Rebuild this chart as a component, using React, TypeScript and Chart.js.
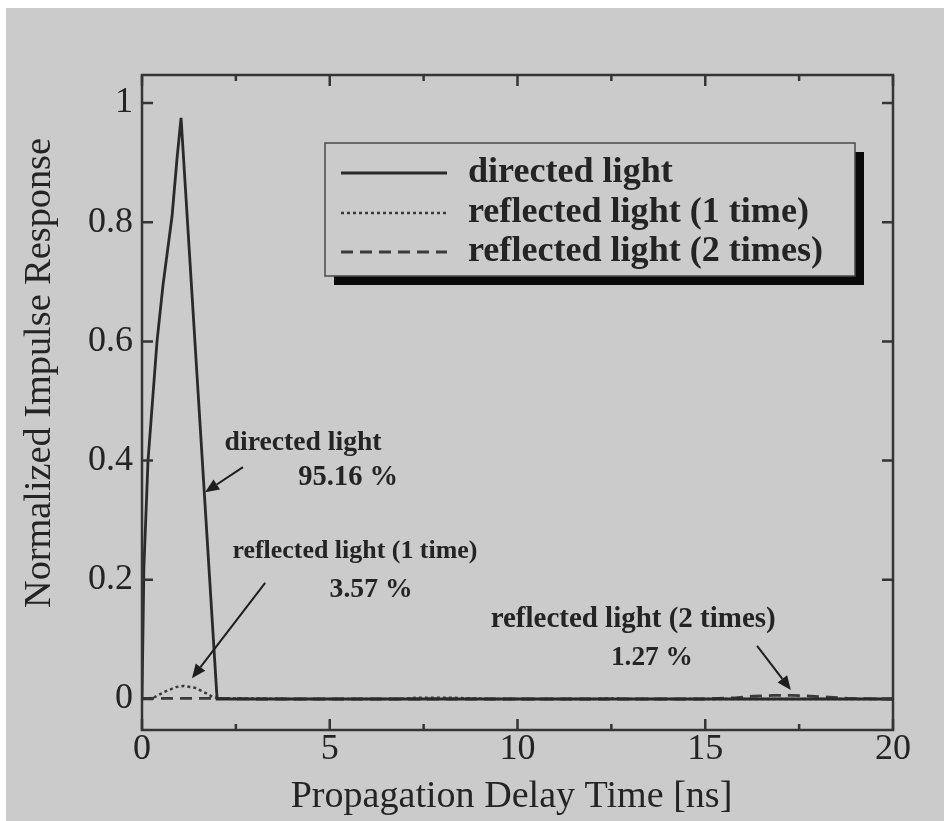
import React, { useEffect, useRef } from "react";
import { Chart, registerables } from "chart.js";

Chart.register(...registerables);

// ---- data ----
const directedX = [0, 0.05, 0.16, 0.4, 0.56, 0.8, 0.93, 1.04, 2.0, 20];
const directedY = [0, 0.22, 0.4, 0.6, 0.695, 0.81, 0.905, 0.975, 0, 0];

const reflected1X = [0, 0.3, 0.6, 0.9, 1.1, 1.4, 1.7, 1.9, 2.1, 3, 4, 6.8, 7.3, 7.8, 8.3, 8.8, 9.3, 12, 12.5, 13, 14, 20];
const reflected1Y = [0, 0.002, 0.012, 0.02, 0.022, 0.019, 0.01, 0.003, 0.001, 0.001, 0, 0, 0.002, 0.002, 0.002, 0.001, 0, 0, 0.001, 0, 0, 0];

const reflected2X = [0, 1, 2, 3, 10, 15, 15.8, 16.3, 16.8, 17.3, 17.8, 18.3, 18.8, 20];
const reflected2Y = [0.001, 0.001, 0.001, 0, 0, 0, 0.002, 0.005, 0.006, 0.006, 0.005, 0.003, 0.001, 0];

const xTickLabels = ["0", "5", "10", "15", "20"];
const xTickValues = [0, 5, 10, 15, 20];
const xMinorValues = [2.5, 7.5, 12.5, 17.5];
const yTickLabels = ["0", "0.2", "0.4", "0.6", "0.8", "1"];
const yTickValues = [0, 0.2, 0.4, 0.6, 0.8, 1];

const seriesNames = ["directed light", "reflected light (1 time)", "reflected light (2 times)"];

const xTitle = "Propagation Delay Time [ns]";
const yTitle = "Normalized Impulse Response";

// annotation texts anchored in data units
const annotationTexts = [
  { text: "directed light", x: 4.29, y: 0.43, w: 157 },
  { text: "95.16 %", x: 5.49, y: 0.371, w: 100 },
  { text: "reflected light (1 time)", x: 5.67, y: 0.247, w: 245 },
  { text: "3.57 %", x: 6.1, y: 0.183, w: 83 },
  { text: "reflected light (2 times)", x: 13.08, y: 0.133, w: 285 },
  { text: "1.27 %", x: 13.58, y: 0.069, w: 82 },
];
const annotationArrows = [
  { x0: 2.69, y0: 0.389, x1: 1.68, y1: 0.347 },
  { x0: 3.28, y0: 0.195, x1: 1.33, y1: 0.035 },
  { x0: 16.38, y0: 0.089, x1: 17.28, y1: 0.015 },
];

const SERIF = '"Liberation Serif", "DejaVu Serif", serif';
const BG = "#cbcbcb";
const INK = "#242424";

function fitFont(ctx: CanvasRenderingContext2D, text: string, width: number, weight: string) {
  ctx.font = `${weight} 100px ${SERIF}`;
  const w = ctx.measureText(text).width;
  const size = (100 * width) / w;
  ctx.font = `${weight} ${size.toFixed(2)}px ${SERIF}`;
  return size;
}

function toPts(xs: number[], ys: number[]) {
  return xs.map((x, i) => ({ x, y: ys[i] }));
}

const decorPlugin = {
  id: "decor",
  beforeDraw(chart: any) {
    const ctx: CanvasRenderingContext2D = chart.ctx;
    ctx.save();
    ctx.fillStyle = "#ffffff";
    ctx.fillRect(0, 0, chart.width, chart.height);
    ctx.fillStyle = BG;
    ctx.fillRect(6, 8, chart.width - 6, chart.height - 8);
    ctx.restore();
  },
  afterDatasetsDraw(chart: any) {
    const ctx: CanvasRenderingContext2D = chart.ctx;
    const xs = chart.scales.x;
    const ys = chart.scales.y;
    const { left, right, top, bottom } = chart.chartArea;
    ctx.save();

    // frame
    ctx.strokeStyle = "#353535";
    ctx.lineWidth = 2.5;
    ctx.strokeRect(left, top, right - left, bottom - top);

    // ticks (inward)
    ctx.lineWidth = 2.5;
    ctx.beginPath();
    const major = 11;
    const minor = 6;
    xTickValues.forEach((v) => {
      const px = xs.getPixelForValue(v);
      ctx.moveTo(px, bottom);
      ctx.lineTo(px, bottom - major);
      ctx.moveTo(px, top);
      ctx.lineTo(px, top + major);
    });
    xMinorValues.forEach((v) => {
      const px = xs.getPixelForValue(v);
      ctx.moveTo(px, bottom);
      ctx.lineTo(px, bottom - minor);
      ctx.moveTo(px, top);
      ctx.lineTo(px, top + minor);
    });
    yTickValues.forEach((v) => {
      const py = ys.getPixelForValue(v);
      ctx.moveTo(left, py);
      ctx.lineTo(left + major, py);
      ctx.moveTo(right, py);
      ctx.lineTo(right - major, py);
    });
    ctx.stroke();

    // tick labels
    ctx.fillStyle = INK;
    ctx.textBaseline = "middle";
    fitFont(ctx, "0.8", 45, "normal");
    ctx.textAlign = "right";
    yTickLabels.forEach((t, i) => {
      ctx.fillText(t, left - 9, ys.getPixelForValue(yTickValues[i]));
    });
    ctx.textAlign = "center";
    xTickLabels.forEach((t, i) => {
      ctx.fillText(t, xs.getPixelForValue(xTickValues[i]), bottom + 20);
    });

    // axis titles
    fitFont(ctx, xTitle, 442, "normal");
    ctx.fillText(xTitle, (left + right) / 2 - 6, bottom + 67);
    ctx.save();
    ctx.translate(40, 373);
    ctx.rotate(-Math.PI / 2);
    fitFont(ctx, yTitle, 470, "normal");
    ctx.fillText(yTitle, 0, 0);
    ctx.restore();

    // legend box with shadow
    const lx = left + 183;
    const ly = top + 68;
    const lw = 530;
    const lh = 133;
    ctx.fillStyle = "#0a0a0a";
    ctx.fillRect(lx + 9, ly + 9, lw, lh);
    ctx.fillStyle = BG;
    ctx.fillRect(lx, ly, lw, lh);
    ctx.strokeStyle = "#4a4a4a";
    ctx.lineWidth = 1.5;
    ctx.strokeRect(lx, ly, lw, lh);

    const styles = chart.data.datasets;
    const rowY = [ly + 30, ly + 70, ly + 109];
    styles.forEach((ds: any, i: number) => {
      ctx.strokeStyle = ds.borderColor;
      ctx.lineWidth = ds.borderWidth;
      ctx.setLineDash(ds.borderDash || []);
      ctx.beginPath();
      ctx.moveTo(lx + 16, rowY[i]);
      ctx.lineTo(lx + 122, rowY[i]);
      ctx.stroke();
    });
    ctx.setLineDash([]);
    ctx.fillStyle = INK;
    ctx.textAlign = "left";
    fitFont(ctx, seriesNames[2], 355, "bold");
    seriesNames.forEach((n, i) => ctx.fillText(n, lx + 143, rowY[i]));

    // annotations
    ctx.textAlign = "center";
    annotationTexts.forEach((a) => {
      fitFont(ctx, a.text, a.w, "bold");
      ctx.fillText(a.text, xs.getPixelForValue(a.x), ys.getPixelForValue(a.y));
    });
    ctx.strokeStyle = "#1e1e1e";
    ctx.fillStyle = "#1e1e1e";
    ctx.lineWidth = 2;
    annotationArrows.forEach((a) => {
      const x0 = xs.getPixelForValue(a.x0);
      const y0 = ys.getPixelForValue(a.y0);
      const x1 = xs.getPixelForValue(a.x1);
      const y1 = ys.getPixelForValue(a.y1);
      const ang = Math.atan2(y1 - y0, x1 - x0);
      const hl = 14;
      const hw = 6;
      const bx = x1 - hl * Math.cos(ang);
      const by = y1 - hl * Math.sin(ang);
      ctx.beginPath();
      ctx.moveTo(x0, y0);
      ctx.lineTo(bx, by);
      ctx.stroke();
      ctx.beginPath();
      ctx.moveTo(x1, y1);
      ctx.lineTo(bx + hw * Math.sin(ang), by - hw * Math.cos(ang));
      ctx.lineTo(bx - hw * Math.sin(ang), by + hw * Math.cos(ang));
      ctx.closePath();
      ctx.fill();
    });

    ctx.restore();
  },
};

export default function App() {
  const ref = useRef<HTMLCanvasElement | null>(null);

  useEffect(() => {
    document.body.style.margin = "0";
    const canvas = ref.current;
    if (!canvas) return;
    const chart = new Chart(canvas, {
      type: "line",
      data: {
        datasets: [
          {
            label: seriesNames[0],
            data: toPts(directedX, directedY),
            borderColor: "#2a2a2a",
            borderWidth: 2.8,
            pointRadius: 0,
            tension: 0,
          },
          {
            label: seriesNames[1],
            data: toPts(reflected1X, reflected1Y),
            borderColor: "#3a3a3a",
            borderWidth: 2.5,
            borderDash: [3, 3],
            pointRadius: 0,
            tension: 0,
          },
          {
            label: seriesNames[2],
            data: toPts(reflected2X, reflected2Y),
            borderColor: "#3a3a3a",
            borderWidth: 2.8,
            borderDash: [12, 7],
            pointRadius: 0,
            tension: 0,
          },
        ],
      },
      options: {
        animation: false,
        responsive: false,
        devicePixelRatio: 1,
        layout: { padding: { left: 142, right: 51, top: 75, bottom: 91 } },
        plugins: { legend: { display: false }, tooltip: { enabled: false } },
        scales: {
          x: { type: "linear", min: 0, max: 20, display: false },
          y: { type: "linear", min: -0.052, max: 1.047, display: false },
        },
      },
      plugins: [decorPlugin],
    });
    return () => chart.destroy();
  }, []);

  return <canvas ref={ref} width={944} height={821} style={{ display: "block" }} />;
}
